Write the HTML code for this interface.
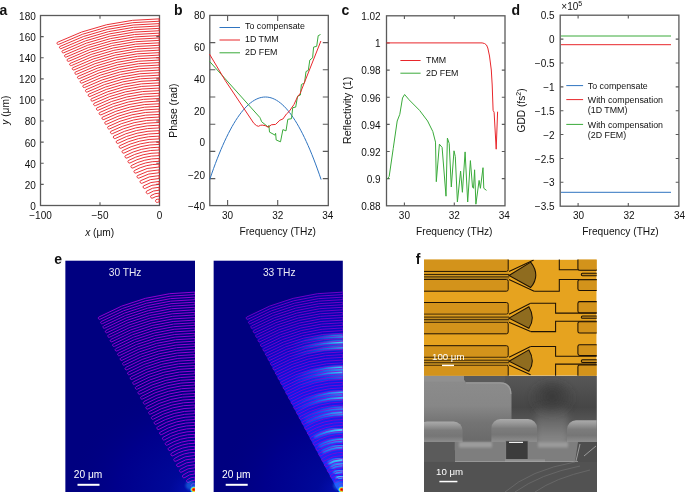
<!DOCTYPE html>
<html><head><meta charset="utf-8"><style>
html,body{margin:0;padding:0;background:#fff;overflow:hidden;width:685px;height:492px;}
svg{display:block;will-change:transform;}
text{font-family:"Liberation Sans", sans-serif;}
</style></head><body>
<svg width="685" height="492" viewBox="0 0 685 492">
<rect x="40.5" y="15.5" width="119" height="190" fill="none" stroke="#5a5a5a" stroke-width="1.3"/><path d="M40.5,184.39h3.2M159.5,184.39h-3.2M40.5,163.28h3.2M159.5,163.28h-3.2M40.5,142.17h3.2M159.5,142.17h-3.2M40.5,121.06h3.2M159.5,121.06h-3.2M40.5,99.94h3.2M159.5,99.94h-3.2M40.5,78.83h3.2M159.5,78.83h-3.2M40.5,57.72h3.2M159.5,57.72h-3.2M40.5,36.61h3.2M159.5,36.61h-3.2M100,205.5v-3.2M100,15.5v3.2" stroke="#5a5a5a" stroke-width="1.1" fill="none"/>
<path d="M159.2,199.06A7.02,6.24 0 0 0 155.99,199.75A1.57,1.57 0 0 0 157.52,202.38A3.69,3.28 0 0 1 159.2,202.02ZM159.2,193.14A13.68,12.16 0 0 0 150.95,195.6A1.56,1.56 0 0 0 152.95,197.95A10.37,9.22 0 0 1 159.2,196.08ZM159.2,187.26A20.29,18.04 0 0 0 146.52,191.22A1.55,1.55 0 0 0 148.57,193.5A17,15.11 0 0 1 159.2,190.19ZM159.2,181.42A26.85,23.88 0 0 0 143.46,185.95A1.54,1.54 0 0 0 145.38,188.31A23.59,20.97 0 0 1 159.2,184.33ZM159.2,175.63A33.37,29.67 0 0 0 140.41,180.78A1.53,1.53 0 0 0 142.24,183.16A30.13,26.79 0 0 1 159.2,178.51ZM159.2,169.87A39.85,35.43 0 0 0 137.37,175.66A1.52,1.52 0 0 0 139.14,178.05A36.63,32.57 0 0 1 159.2,172.73ZM159.2,164.15A46.28,41.15 0 0 0 134.35,170.59A1.51,1.51 0 0 0 136.06,172.99A43.08,38.31 0 0 1 159.2,166.99ZM159.2,158.47A52.67,46.83 0 0 0 131.34,165.56A1.5,1.5 0 0 0 133.02,167.96A49.49,44 0 0 1 159.2,161.3ZM159.2,152.83A59.02,52.47 0 0 0 128.35,160.57A1.49,1.49 0 0 0 130,162.96A55.86,49.67 0 0 1 159.2,155.63ZM159.2,147.23A65.32,58.07 0 0 0 125.38,155.61A1.48,1.48 0 0 0 127.01,158A62.19,55.29 0 0 1 159.2,150.01ZM159.2,141.66A71.58,63.64 0 0 0 122.43,150.7A1.47,1.47 0 0 0 124.03,153.07A68.47,60.87 0 0 1 159.2,144.43ZM159.2,136.13A77.8,69.17 0 0 0 119.5,145.82A1.46,1.46 0 0 0 121.08,148.18A74.7,66.42 0 0 1 159.2,138.88ZM159.2,130.64A83.97,74.66 0 0 0 116.59,140.97A1.45,1.45 0 0 0 118.15,143.32A80.9,71.93 0 0 1 159.2,133.37ZM159.2,125.19A90.1,80.11 0 0 0 113.7,136.15A1.44,1.44 0 0 0 115.24,138.5A87.05,77.4 0 0 1 159.2,127.9ZM159.2,119.78A96.19,85.52 0 0 0 110.83,131.37A1.43,1.43 0 0 0 112.35,133.7A93.16,82.83 0 0 1 159.2,122.47ZM159.2,114.4A102.24,90.9 0 0 0 107.98,126.63A1.42,1.42 0 0 0 109.48,128.94A99.24,88.23 0 0 1 159.2,117.07ZM159.2,109.06A108.25,96.24 0 0 0 105.14,121.91A1.41,1.41 0 0 0 106.64,124.22A105.26,93.59 0 0 1 159.2,111.71ZM159.2,103.75A114.22,101.55 0 0 0 102.33,117.23A1.4,1.4 0 0 0 103.81,119.52A111.25,98.91 0 0 1 159.2,106.39ZM159.2,98.48A120.15,106.82 0 0 0 99.53,112.58A1.39,1.39 0 0 0 101,114.86A117.2,104.2 0 0 1 159.2,101.1ZM159.2,93.25A126.03,112.05 0 0 0 96.76,107.97A1.38,1.38 0 0 0 98.21,110.23A123.11,109.45 0 0 1 159.2,95.85ZM159.2,88.05A131.88,117.25 0 0 0 94,103.38A1.37,1.37 0 0 0 95.44,105.63A128.97,114.67 0 0 1 159.2,90.63ZM159.2,82.89A137.69,122.41 0 0 0 91.26,98.83A1.36,1.36 0 0 0 92.69,101.06A134.8,119.85 0 0 1 159.2,85.45ZM159.2,77.76A143.45,127.54 0 0 0 88.54,94.3A1.35,1.35 0 0 0 89.95,96.52A140.59,124.99 0 0 1 159.2,80.31ZM159.2,72.67A149.18,132.63 0 0 0 85.84,89.81A1.35,1.35 0 0 0 87.24,92.02A146.33,130.1 0 0 1 159.2,75.2ZM159.2,67.61A154.87,137.69 0 0 0 83.16,85.35A1.34,1.34 0 0 0 84.55,87.54A152.04,135.18 0 0 1 159.2,70.12ZM159.2,62.58A160.52,142.72 0 0 0 80.49,80.92A1.33,1.33 0 0 0 81.87,83.1A157.71,140.22 0 0 1 159.2,65.08ZM159.2,57.59A166.13,147.71 0 0 0 77.84,76.52A1.32,1.32 0 0 0 79.21,78.68A163.34,145.22 0 0 1 159.2,60.08ZM159.2,52.64A171.71,152.66 0 0 0 75.21,72.15A1.31,1.31 0 0 0 76.57,74.3A168.94,150.2 0 0 1 159.2,55.1ZM159.2,47.72A177.24,157.58 0 0 0 72.6,67.81A1.3,1.3 0 0 0 73.95,69.94A174.49,155.13 0 0 1 159.2,50.17ZM159.2,42.83A182.74,162.47 0 0 0 70.01,63.49A1.29,1.29 0 0 0 71.34,65.62A180.01,160.04 0 0 1 159.2,45.26ZM159.2,37.97A188.2,167.33 0 0 0 67.43,59.21A1.28,1.28 0 0 0 68.76,61.32A185.49,164.91 0 0 1 159.2,40.39ZM159.2,33.15A193.63,172.15 0 0 0 64.87,54.96A1.27,1.27 0 0 0 66.19,57.05A190.93,169.75 0 0 1 159.2,35.55ZM159.2,28.36A199.01,176.94 0 0 0 62.33,50.74A1.27,1.27 0 0 0 63.64,52.82A196.33,174.56 0 0 1 159.2,30.74ZM159.2,23.6A204.36,181.7 0 0 0 59.81,46.54A1.26,1.26 0 0 0 61.1,48.61A201.7,179.33 0 0 1 159.2,25.97ZM159.2,18.88A209.68,186.42 0 0 0 57.3,42.37A1.25,1.25 0 0 0 58.59,44.43A207.03,184.07 0 0 1 159.2,21.23Z" fill="none" stroke="#e8262b" stroke-width="0.95"/>
<text x="35.8" y="209.9" font-size="10" text-anchor="end"  fill="#111">0</text>
<text x="35.8" y="188.79" font-size="10" text-anchor="end"  fill="#111">20</text>
<text x="35.8" y="167.68" font-size="10" text-anchor="end"  fill="#111">40</text>
<text x="35.8" y="146.57" font-size="10" text-anchor="end"  fill="#111">60</text>
<text x="35.8" y="125.46" font-size="10" text-anchor="end"  fill="#111">80</text>
<text x="35.8" y="104.34" font-size="10" text-anchor="end"  fill="#111">100</text>
<text x="35.8" y="83.23" font-size="10" text-anchor="end"  fill="#111">120</text>
<text x="35.8" y="62.12" font-size="10" text-anchor="end"  fill="#111">140</text>
<text x="35.8" y="41.01" font-size="10" text-anchor="end"  fill="#111">160</text>
<text x="35.8" y="19.9" font-size="10" text-anchor="end"  fill="#111">180</text>
<text x="40.5" y="219" font-size="10" text-anchor="middle"  fill="#111">&#8722;100</text>
<text x="100" y="219" font-size="10" text-anchor="middle"  fill="#111">&#8722;50</text>
<text x="159.5" y="219" font-size="10" text-anchor="middle"  fill="#111">0</text>
<text x="99.7" y="236" font-size="10.2" text-anchor="middle"  fill="#111"><tspan font-style="italic">x</tspan> (&#956;m)</text>
<g transform="translate(9.0,110.2) rotate(-90)"><text x="0" y="0" font-size="10.2" text-anchor="middle"  fill="#111"><tspan font-style="italic">y</tspan> (&#956;m)</text></g>
<text x="-0.5" y="14.6" font-size="14" text-anchor="start" font-weight="bold" fill="#111">a</text>
<rect x="209.8" y="15.4" width="118.5" height="190.2" fill="none" stroke="#5a5a5a" stroke-width="1.3"/><path d="M209.8,42.6h5.5M328.3,42.6h-5.5M209.8,69.8h5.5M328.3,69.8h-5.5M209.8,97h5.5M328.3,97h-5.5M209.8,124.2h5.5M328.3,124.2h-5.5M209.8,151.4h5.5M328.3,151.4h-5.5M209.8,178.6h5.5M328.3,178.6h-5.5M227.6,205.6v-5.5M227.6,15.4v5.5M277.7,205.6v-5.5M277.7,15.4v5.5" stroke="#5a5a5a" stroke-width="1.1" fill="none"/>
<polyline points="209.8,179.29 211.66,173.89 213.51,168.68 215.37,163.64 217.22,158.79 219.08,154.13 220.93,149.64 222.79,145.34 224.64,141.23 226.5,137.29 228.35,133.54 230.21,129.97 232.06,126.59 233.92,123.39 235.77,120.37 237.62,117.54 239.48,114.88 241.34,112.42 243.19,110.13 245.05,108.03 246.9,106.11 248.76,104.38 250.61,102.82 252.47,101.45 254.32,100.27 256.18,99.27 258.03,98.45 259.88,97.81 261.74,97.36 263.6,97.09 265.45,97 267.31,97.1 269.16,97.38 271.02,97.84 272.87,98.49 274.73,99.31 276.58,100.33 278.44,101.52 280.29,102.9 282.15,104.46 284,106.21 285.86,108.14 287.71,110.25 289.57,112.54 291.42,115.02 293.28,117.68 295.13,120.53 296.99,123.56 298.84,126.77 300.7,130.16 302.55,133.74 304.41,137.5 306.26,141.44 308.12,145.57 309.97,149.88 311.83,154.37 313.68,159.05 315.54,163.91 317.39,168.95 319.25,174.18 321.1,179.59" fill="none" stroke="#2f74c0" stroke-width="1"/>
<polyline points="209.5,61.3 259.8,117.4 260.5,118.8 261.6,121.7 268.3,127.2 268.9,125.4 269.5,132.1 275,135.1 275.6,133.3 276.2,140 280.5,141.8 282.9,129.6 286,130.9 287.8,119.3 291.5,118.7 292.7,107.7 295.7,107.1 297.6,96.1 298.4,95.9 300.4,95 301.4,84.5 304.5,82.9 306,71.5 308.3,70.4 309.8,60.1 312.6,57.8 313.6,47.1 316.7,46.3 318.2,35.7 320.5,34.5" fill="none" stroke="#3aaa3a" stroke-width="1" stroke-linejoin="round"/>
<polyline points="209.5,54.1 225.3,80.6 253.8,123.3 256.5,125.6 258.5,126.3 260.5,125.3 262.2,125.1 265.2,125.6 268.3,127.2 271.3,124.8 275.6,124.4 279.9,120.2 282.9,119 286.6,113.8 289,111.7 293.9,104.6 297.6,96.7 300,93.7 320.9,41" fill="none" stroke="#e8262b" stroke-width="1" stroke-linejoin="round"/>
<text x="205" y="19" font-size="10" text-anchor="end"  fill="#111">80</text>
<text x="205" y="51.2" font-size="10" text-anchor="end"  fill="#111">60</text>
<text x="205" y="82.8" font-size="10" text-anchor="end"  fill="#111">40</text>
<text x="205" y="114.6" font-size="10" text-anchor="end"  fill="#111">20</text>
<text x="205" y="146.3" font-size="10" text-anchor="end"  fill="#111">0</text>
<text x="205" y="178.6" font-size="10" text-anchor="end"  fill="#111">&#8722;20</text>
<text x="205" y="209.6" font-size="10" text-anchor="end"  fill="#111">&#8722;40</text>
<text x="227.6" y="219" font-size="10" text-anchor="middle"  fill="#111">30</text>
<text x="277.7" y="219" font-size="10" text-anchor="middle"  fill="#111">32</text>
<text x="327.8" y="219" font-size="10" text-anchor="middle"  fill="#111">34</text>
<text x="277.7" y="234.8" font-size="10.2" text-anchor="middle"  fill="#111">Frequency (THz)</text>
<g transform="translate(176.8,110.6) rotate(-90)"><text x="0" y="0" font-size="10.4" text-anchor="middle"  fill="#111">Phase (rad)</text></g>
<text x="174" y="14.8" font-size="14" text-anchor="start" font-weight="bold" fill="#111">b</text>
<path d="M219.5,27.5H240" stroke="#2f74c0" stroke-width="1"/>
<text x="245" y="29.3" font-size="8.85" text-anchor="start"  fill="#111">To compensate</text>
<path d="M219.5,40H240" stroke="#e8262b" stroke-width="1"/>
<text x="245" y="42.4" font-size="8.85" text-anchor="start"  fill="#111">1D TMM</text>
<path d="M219.5,52.8H240" stroke="#3aaa3a" stroke-width="1"/>
<text x="245" y="55" font-size="8.85" text-anchor="start"  fill="#111">2D FEM</text>
<rect x="386.5" y="15.8" width="118.5" height="190" fill="none" stroke="#5a5a5a" stroke-width="1.3"/><path d="M386.5,178.64h3.2M505,178.64h-3.2M386.5,151.5h3.2M505,151.5h-3.2M386.5,124.36h3.2M505,124.36h-3.2M386.5,97.22h3.2M505,97.22h-3.2M386.5,70.08h3.2M505,70.08h-3.2M386.5,42.94h3.2M505,42.94h-3.2M404.4,205.8v-3.2M404.4,15.8v3.2M454.3,205.8v-3.2M454.3,15.8v3.2" stroke="#5a5a5a" stroke-width="1.1" fill="none"/>
<text x="380.6" y="20.1" font-size="10" text-anchor="end"  fill="#111">1.02</text>
<text x="380.6" y="47.24" font-size="10" text-anchor="end"  fill="#111">1</text>
<text x="380.6" y="74.38" font-size="10" text-anchor="end"  fill="#111">0.98</text>
<text x="380.6" y="101.52" font-size="10" text-anchor="end"  fill="#111">0.96</text>
<text x="380.6" y="128.66" font-size="10" text-anchor="end"  fill="#111">0.94</text>
<text x="380.6" y="155.8" font-size="10" text-anchor="end"  fill="#111">0.92</text>
<text x="380.6" y="182.94" font-size="10" text-anchor="end"  fill="#111">0.9</text>
<text x="380.6" y="210.08" font-size="10" text-anchor="end"  fill="#111">0.88</text>
<text x="404.4" y="219" font-size="10" text-anchor="middle"  fill="#111">30</text>
<text x="454.3" y="219" font-size="10" text-anchor="middle"  fill="#111">32</text>
<text x="504.2" y="219" font-size="10" text-anchor="middle"  fill="#111">34</text>
<text x="454.3" y="234.8" font-size="10.2" text-anchor="middle"  fill="#111">Frequency (THz)</text>
<g transform="translate(351.0,110.4) rotate(-90)"><text x="0" y="0" font-size="10.6" text-anchor="middle"  fill="#111">Reflectivity (1)</text></g>
<text x="341.5" y="14.8" font-size="14" text-anchor="start" font-weight="bold" fill="#111">c</text>
<polyline points="387.4,179.1 389.2,176.4 393.2,148.7 397.2,121 399.8,114.3 402.5,98 404.6,94.5 409.1,99.8 419.6,110.4 427.6,121 432.8,131.5 435.5,142.1 436.3,181.7 439.4,144.2 442.1,147.4 446,196.2 447.4,138.1 449.2,143.4 451.3,187 454,150.8 455.3,156.6 457.4,202 460.6,171.1 462.4,192.3 465.1,151.9 467.7,202 470.4,160.6 472.5,187 473.5,188.3 474.6,169.8 475.9,204.2 479.1,180.4 480.4,188.3 483,167.7 483.8,188.3 486.5,190.4" fill="none" stroke="#3aaa3a" stroke-width="1" stroke-linejoin="round"/>
<polyline points="386.5,42.9 482.1,42.9 484.5,43.5 486.5,45 487.8,48 489.5,56 491.3,70 492.2,85 493.1,110.4 494.1,112.2 496.2,149.2 497.6,111.7" fill="none" stroke="#e8262b" stroke-width="1" stroke-linejoin="round"/>
<path d="M400.4,60.5H420.6" stroke="#e8262b" stroke-width="1"/>
<text x="426" y="63.3" font-size="8.85" text-anchor="start"  fill="#111">TMM</text>
<path d="M400.4,73.2H420.6" stroke="#3aaa3a" stroke-width="1"/>
<text x="426" y="76.2" font-size="8.85" text-anchor="start"  fill="#111">2D FEM</text>
<rect x="560.2" y="15.2" width="118.7" height="191" fill="none" stroke="#5a5a5a" stroke-width="1.3"/><path d="M560.2,39.08h3.2M678.9,39.08h-3.2M560.2,62.95h3.2M678.9,62.95h-3.2M560.2,86.83h3.2M678.9,86.83h-3.2M560.2,110.7h3.2M678.9,110.7h-3.2M560.2,134.57h3.2M678.9,134.57h-3.2M560.2,158.45h3.2M678.9,158.45h-3.2M560.2,182.32h3.2M678.9,182.32h-3.2M578.1,206.2v-3.2M578.1,15.2v3.2M628.3,206.2v-3.2M628.3,15.2v3.2" stroke="#5a5a5a" stroke-width="1.1" fill="none"/>
<text x="554.6" y="19.3" font-size="10" text-anchor="end"  fill="#111">0.5</text>
<text x="554.6" y="43.18" font-size="10" text-anchor="end"  fill="#111">0</text>
<text x="554.6" y="67.05" font-size="10" text-anchor="end"  fill="#111">&#8722;0.5</text>
<text x="554.6" y="90.92" font-size="10" text-anchor="end"  fill="#111">&#8722;1</text>
<text x="554.6" y="114.8" font-size="10" text-anchor="end"  fill="#111">&#8722;1.5</text>
<text x="554.6" y="138.67" font-size="10" text-anchor="end"  fill="#111">&#8722;2</text>
<text x="554.6" y="162.55" font-size="10" text-anchor="end"  fill="#111">&#8722;2.5</text>
<text x="554.6" y="186.42" font-size="10" text-anchor="end"  fill="#111">&#8722;3</text>
<text x="554.6" y="210.3" font-size="10" text-anchor="end"  fill="#111">&#8722;3.5</text>
<text x="578.5" y="219" font-size="10" text-anchor="middle"  fill="#111">30</text>
<text x="629" y="219" font-size="10" text-anchor="middle"  fill="#111">32</text>
<text x="679.5" y="219" font-size="10" text-anchor="middle"  fill="#111">34</text>
<text x="620.5" y="234.8" font-size="10.2" text-anchor="middle"  fill="#111">Frequency (THz)</text>
<g transform="translate(525.4,110.5) rotate(-90)"><text x="0" y="0" font-size="10.2" text-anchor="middle"  fill="#111">GDD (fs<tspan font-size="7" dy="-4">2</tspan><tspan dy="4">)</tspan></text></g>
<text x="511.5" y="14.9" font-size="14" text-anchor="start" font-weight="bold" fill="#111">d</text>
<text x="561.3" y="10.2" font-size="10" text-anchor="start"  fill="#111">&#215;10<tspan font-size="7" dy="-4.6">5</tspan></text>
<path d="M561,36H671" stroke="#3aaa3a" stroke-width="1"/>
<path d="M561,44.7H671" stroke="#e8262b" stroke-width="1"/>
<path d="M561,192.3H671" stroke="#2f74c0" stroke-width="1"/>
<path d="M566.3,85.6H583.1" stroke="#2f74c0" stroke-width="1"/>
<path d="M566.3,99.6H583.1" stroke="#e8262b" stroke-width="1"/>
<path d="M566.3,124.4H583.1" stroke="#3aaa3a" stroke-width="1"/>
<text x="587.8" y="88.9" font-size="8.85" text-anchor="start"  fill="#111">To compensate</text>
<text x="587.8" y="102.9" font-size="8.85" text-anchor="start"  fill="#111">With compensation</text>
<text x="587.8" y="113.4" font-size="8.85" text-anchor="start"  fill="#111">(1D TMM)</text>
<text x="587.8" y="127.8" font-size="8.85" text-anchor="start"  fill="#111">With compensation</text>
<text x="587.8" y="137.8" font-size="8.85" text-anchor="start"  fill="#111">(2D FEM)</text>
<defs><radialGradient id="haze" cx="1" cy="1" r="1"><stop offset="0" stop-color="#0818c8" stop-opacity="0.8"/><stop offset="0.2" stop-color="#0010b0" stop-opacity="0.5"/><stop offset="0.6" stop-color="#00009a" stop-opacity="0.45"/><stop offset="1" stop-color="#000080" stop-opacity="0"/></radialGradient><radialGradient id="hot" cx="0.5" cy="0.5" r="0.5"><stop offset="0" stop-color="#c00000"/><stop offset="0.3" stop-color="#ff4000"/><stop offset="0.5" stop-color="#f0e020"/><stop offset="0.7" stop-color="#20e0ff"/><stop offset="1" stop-color="#2040ff" stop-opacity="0"/></radialGradient><radialGradient id="wedgeFill" gradientUnits="userSpaceOnUse" cx="343" cy="490" r="200"><stop offset="0" stop-color="#2030ff"/><stop offset="0.55" stop-color="#1018e8"/><stop offset="0.8" stop-color="#0808c0"/><stop offset="1" stop-color="#000098"/></radialGradient><linearGradient id="cyanBand" gradientUnits="userSpaceOnUse" x1="290" y1="0" x2="343" y2="0"><stop offset="0" stop-color="#1060ff" stop-opacity="0"/><stop offset="0.45" stop-color="#1890ff" stop-opacity="0.55"/><stop offset="0.8" stop-color="#30d0ff" stop-opacity="0.95"/><stop offset="1" stop-color="#50f0ff" stop-opacity="1"/></linearGradient><filter id="soft" x="-0.2" y="-0.2" width="1.4" height="1.4"><feGaussianBlur stdDeviation="0.8"/></filter></defs>
<clipPath id="clip65"><rect x="65.2" y="260.4" width="129.8" height="231.6"/></clipPath>
<g clip-path="url(#clip65)">
<rect x="65.2" y="260.4" width="129.8" height="231.6" fill="#000080"/>
<rect x="65.2" y="380" width="129.8" height="112" fill="url(#haze)"/>

<path d="M195,483.37A6.63,6.63 0 0 0 191.97,484.1A1.57,1.57 0 0 0 193.41,486.9A3.48,3.48 0 0 1 195,486.52ZM195,477.09A12.91,12.91 0 0 0 187.21,479.71A1.56,1.56 0 0 0 189.1,482.2A9.78,9.78 0 0 1 195,480.22ZM195,470.85A19.15,19.15 0 0 0 183.03,475.06A1.55,1.55 0 0 0 184.97,477.48A16.04,16.04 0 0 1 195,473.96ZM195,464.66A25.34,25.34 0 0 0 180.15,469.46A1.54,1.54 0 0 0 181.96,471.96A22.26,22.26 0 0 1 195,467.74ZM195,458.5A31.5,31.5 0 0 0 177.27,463.97A1.53,1.53 0 0 0 178.99,466.5A28.43,28.43 0 0 1 195,461.57ZM195,452.39A37.61,37.61 0 0 0 174.4,458.54A1.52,1.52 0 0 0 176.06,461.08A34.57,34.57 0 0 1 195,455.43ZM195,446.32A43.68,43.68 0 0 0 171.55,453.15A1.51,1.51 0 0 0 173.17,455.7A40.66,40.66 0 0 1 195,449.34ZM195,440.29A49.71,49.71 0 0 0 168.71,447.82A1.5,1.5 0 0 0 170.29,450.36A46.71,46.71 0 0 1 195,443.29ZM195,434.3A55.7,55.7 0 0 0 165.89,442.52A1.49,1.49 0 0 0 167.44,445.06A52.72,52.72 0 0 1 195,437.28ZM195,428.36A61.64,61.64 0 0 0 163.09,437.26A1.48,1.48 0 0 0 164.62,439.79A58.68,58.68 0 0 1 195,431.32ZM195,422.45A67.55,67.55 0 0 0 160.3,432.04A1.47,1.47 0 0 0 161.81,434.56A64.61,64.61 0 0 1 195,425.39ZM195,416.58A73.42,73.42 0 0 0 157.54,426.86A1.46,1.46 0 0 0 159.03,429.37A70.5,70.5 0 0 1 195,419.5ZM195,410.76A79.24,79.24 0 0 0 154.79,421.72A1.45,1.45 0 0 0 156.26,424.21A76.34,76.34 0 0 1 195,413.66ZM195,404.97A85.03,85.03 0 0 0 152.06,416.61A1.44,1.44 0 0 0 153.52,419.09A82.15,82.15 0 0 1 195,407.85ZM195,399.22A90.78,90.78 0 0 0 149.35,411.53A1.43,1.43 0 0 0 150.79,414A87.92,87.92 0 0 1 195,402.08ZM195,393.51A96.49,96.49 0 0 0 146.66,406.49A1.42,1.42 0 0 0 148.08,408.95A93.65,93.65 0 0 1 195,396.35ZM195,387.84A102.16,102.16 0 0 0 143.99,401.49A1.41,1.41 0 0 0 145.4,403.93A99.34,99.34 0 0 1 195,390.66ZM195,382.21A107.79,107.79 0 0 0 141.33,396.52A1.4,1.4 0 0 0 142.73,398.95A104.99,104.99 0 0 1 195,385.01ZM195,376.62A113.38,113.38 0 0 0 138.69,391.59A1.39,1.39 0 0 0 140.08,394A110.6,110.6 0 0 1 195,379.4ZM195,371.06A118.94,118.94 0 0 0 136.07,386.69A1.38,1.38 0 0 0 137.44,389.09A116.17,116.17 0 0 1 195,373.83ZM195,365.55A124.45,124.45 0 0 0 133.47,381.82A1.37,1.37 0 0 0 134.83,384.2A121.71,121.71 0 0 1 195,368.29ZM195,360.07A129.93,129.93 0 0 0 130.89,376.98A1.36,1.36 0 0 0 132.23,379.36A127.21,127.21 0 0 1 195,362.79ZM195,354.62A135.38,135.38 0 0 0 128.32,372.18A1.35,1.35 0 0 0 129.65,374.54A132.67,132.67 0 0 1 195,357.33ZM195,349.22A140.78,140.78 0 0 0 125.77,367.42A1.34,1.34 0 0 0 127.09,369.76A138.09,138.09 0 0 1 195,351.91ZM195,343.85A146.15,146.15 0 0 0 123.24,362.68A1.34,1.34 0 0 0 124.55,365.01A143.48,143.48 0 0 1 195,346.52ZM195,338.52A151.48,151.48 0 0 0 120.72,357.98A1.33,1.33 0 0 0 122.02,360.29A148.83,148.83 0 0 1 195,341.17ZM195,333.22A156.78,156.78 0 0 0 118.22,353.31A1.32,1.32 0 0 0 119.51,355.6A154.15,154.15 0 0 1 195,335.85ZM195,327.96A162.04,162.04 0 0 0 115.74,348.67A1.31,1.31 0 0 0 117.02,350.95A159.42,159.42 0 0 1 195,330.58ZM195,322.74A167.26,167.26 0 0 0 113.28,344.06A1.3,1.3 0 0 0 114.55,346.33A164.67,164.67 0 0 1 195,325.33ZM195,317.55A172.45,172.45 0 0 0 110.83,339.48A1.29,1.29 0 0 0 112.09,341.73A169.87,169.87 0 0 1 195,320.13ZM195,312.39A177.61,177.61 0 0 0 108.4,334.94A1.28,1.28 0 0 0 109.65,337.17A175.04,175.04 0 0 1 195,314.96ZM195,307.27A182.73,182.73 0 0 0 105.99,330.42A1.27,1.27 0 0 0 107.23,332.65A180.18,180.18 0 0 1 195,309.82ZM195,302.19A187.81,187.81 0 0 0 103.59,325.94A1.26,1.26 0 0 0 104.82,328.15A185.28,185.28 0 0 1 195,304.72ZM195,297.14A192.86,192.86 0 0 0 101.21,321.49A1.26,1.26 0 0 0 102.43,323.68A190.35,190.35 0 0 1 195,299.65ZM195,292.13A197.87,197.87 0 0 0 98.84,317.06A1.25,1.25 0 0 0 100.05,319.24A195.38,195.38 0 0 1 195,294.62Z" fill="none" stroke="#9000d0" stroke-width="1" />
<ellipse cx="191" cy="485.5" rx="5.5" ry="4.5" fill="#20a0ff" opacity="0.45" filter="url(#soft)"/>
<ellipse cx="193.8" cy="489.6" rx="4.2" ry="3.8" fill="url(#hot)"/>
</g>
<text x="108.8" y="275.6" font-size="10.2" text-anchor="start" fill="#ececf4">30 THz</text>
<text x="73.8" y="478.3" font-size="10.2" text-anchor="start" fill="#fff">20 &#956;m</text>
<rect x="77.5" y="483.8" width="22" height="2" fill="#fff"/>
<clipPath id="clip213"><rect x="213.4" y="260.4" width="129.5" height="231.6"/></clipPath>
<g clip-path="url(#clip213)">
<rect x="213.4" y="260.4" width="129.5" height="231.6" fill="#000080"/>
<rect x="213.4" y="380" width="129.5" height="112" fill="url(#haze)"/>
<path d="M337.51,490L245.65,317.62A198.37,198.37 0 0 1 342.9,291.63L342.9,490Z" fill="url(#wedgeFill)"/>
<path d="M344.9,336.2A153.8,153.8 0 0 0 269.16,355.03" stroke="url(#cyanBand)" stroke-width="3.6" fill="none" opacity="0.75" filter="url(#soft)"/><path d="M344.9,342.3A147.7,147.7 0 0 0 272.09,360.38" stroke="url(#cyanBand)" stroke-width="3.6" fill="none" opacity="1.0" filter="url(#soft)"/><path d="M344.9,347.5A142.5,142.5 0 0 0 274.58,364.94" stroke="url(#cyanBand)" stroke-width="3.6" fill="none" opacity="0.75" filter="url(#soft)"/><path d="M344.9,367.8A122.2,122.2 0 0 0 284.31,382.76" stroke="url(#cyanBand)" stroke-width="3.6" fill="none" opacity="0.95" filter="url(#soft)"/><path d="M344.9,372.1A117.9,117.9 0 0 0 286.38,386.53" stroke="url(#cyanBand)" stroke-width="3.6" fill="none" opacity="0.9" filter="url(#soft)"/><path d="M344.9,377A113,113 0 0 0 288.72,390.83" stroke="url(#cyanBand)" stroke-width="3.6" fill="none" opacity="0.45" filter="url(#soft)"/><path d="M344.9,392.7A97.3,97.3 0 0 0 296.25,404.61" stroke="url(#cyanBand)" stroke-width="3.6" fill="none" opacity="0.85" filter="url(#soft)"/><path d="M344.9,397.7A92.3,92.3 0 0 0 298.65,409" stroke="url(#cyanBand)" stroke-width="3.6" fill="none" opacity="0.85" filter="url(#soft)"/><path d="M344.9,408.4A81.6,81.6 0 0 0 303.78,418.39" stroke="url(#cyanBand)" stroke-width="3.6" fill="none" opacity="0.6" filter="url(#soft)"/><path d="M344.9,413.3A76.7,76.7 0 0 0 306.13,422.69" stroke="url(#cyanBand)" stroke-width="3.6" fill="none" opacity="0.85" filter="url(#soft)"/><path d="M344.9,429.9A60.1,60.1 0 0 0 314.09,437.26" stroke="url(#cyanBand)" stroke-width="3.6" fill="none" opacity="1.0" filter="url(#soft)"/><path d="M344.9,440.2A49.8,49.8 0 0 0 319.02,446.3" stroke="url(#cyanBand)" stroke-width="3.6" fill="none" opacity="0.75" filter="url(#soft)"/><path d="M344.9,446.7A43.3,43.3 0 0 0 322.14,452" stroke="url(#cyanBand)" stroke-width="3.6" fill="none" opacity="0.75" filter="url(#soft)"/><path d="M344.9,459.8A30.2,30.2 0 0 0 328.42,463.5" stroke="url(#cyanBand)" stroke-width="3.6" fill="none" opacity="1.0" filter="url(#soft)"/><path d="M344.9,464.5A25.5,25.5 0 0 0 330.67,467.62" stroke="url(#cyanBand)" stroke-width="3.6" fill="none" opacity="0.75" filter="url(#soft)"/><path d="M344.9,471A19,19 0 0 0 333.79,473.33" stroke="url(#cyanBand)" stroke-width="3.6" fill="none" opacity="0.75" filter="url(#soft)"/><path d="M344.9,476.6A13.4,13.4 0 0 0 336.48,478.24" stroke="url(#cyanBand)" stroke-width="3.6" fill="none" opacity="1.0" filter="url(#soft)"/>
<path d="M342.9,483.37A6.63,6.63 0 0 0 339.87,484.1A1.57,1.57 0 0 0 341.31,486.9A3.48,3.48 0 0 1 342.9,486.52ZM342.9,477.09A12.91,12.91 0 0 0 335.11,479.71A1.56,1.56 0 0 0 337,482.2A9.78,9.78 0 0 1 342.9,480.22ZM342.9,470.85A19.15,19.15 0 0 0 330.93,475.06A1.55,1.55 0 0 0 332.87,477.48A16.04,16.04 0 0 1 342.9,473.96ZM342.9,464.66A25.34,25.34 0 0 0 328.05,469.46A1.54,1.54 0 0 0 329.86,471.96A22.26,22.26 0 0 1 342.9,467.74ZM342.9,458.5A31.5,31.5 0 0 0 325.17,463.97A1.53,1.53 0 0 0 326.89,466.5A28.43,28.43 0 0 1 342.9,461.57ZM342.9,452.39A37.61,37.61 0 0 0 322.3,458.54A1.52,1.52 0 0 0 323.96,461.08A34.57,34.57 0 0 1 342.9,455.43ZM342.9,446.32A43.68,43.68 0 0 0 319.45,453.15A1.51,1.51 0 0 0 321.07,455.7A40.66,40.66 0 0 1 342.9,449.34ZM342.9,440.29A49.71,49.71 0 0 0 316.61,447.82A1.5,1.5 0 0 0 318.19,450.36A46.71,46.71 0 0 1 342.9,443.29ZM342.9,434.3A55.7,55.7 0 0 0 313.79,442.52A1.49,1.49 0 0 0 315.34,445.06A52.72,52.72 0 0 1 342.9,437.28ZM342.9,428.36A61.64,61.64 0 0 0 310.99,437.26A1.48,1.48 0 0 0 312.52,439.79A58.68,58.68 0 0 1 342.9,431.32ZM342.9,422.45A67.55,67.55 0 0 0 308.2,432.04A1.47,1.47 0 0 0 309.71,434.56A64.61,64.61 0 0 1 342.9,425.39ZM342.9,416.58A73.42,73.42 0 0 0 305.44,426.86A1.46,1.46 0 0 0 306.93,429.37A70.5,70.5 0 0 1 342.9,419.5ZM342.9,410.76A79.24,79.24 0 0 0 302.69,421.72A1.45,1.45 0 0 0 304.16,424.21A76.34,76.34 0 0 1 342.9,413.66ZM342.9,404.97A85.03,85.03 0 0 0 299.96,416.61A1.44,1.44 0 0 0 301.42,419.09A82.15,82.15 0 0 1 342.9,407.85ZM342.9,399.22A90.78,90.78 0 0 0 297.25,411.53A1.43,1.43 0 0 0 298.69,414A87.92,87.92 0 0 1 342.9,402.08ZM342.9,393.51A96.49,96.49 0 0 0 294.56,406.49A1.42,1.42 0 0 0 295.98,408.95A93.65,93.65 0 0 1 342.9,396.35ZM342.9,387.84A102.16,102.16 0 0 0 291.89,401.49A1.41,1.41 0 0 0 293.3,403.93A99.34,99.34 0 0 1 342.9,390.66ZM342.9,382.21A107.79,107.79 0 0 0 289.23,396.52A1.4,1.4 0 0 0 290.63,398.95A104.99,104.99 0 0 1 342.9,385.01ZM342.9,376.62A113.38,113.38 0 0 0 286.59,391.59A1.39,1.39 0 0 0 287.98,394A110.6,110.6 0 0 1 342.9,379.4ZM342.9,371.06A118.94,118.94 0 0 0 283.97,386.69A1.38,1.38 0 0 0 285.34,389.09A116.17,116.17 0 0 1 342.9,373.83ZM342.9,365.55A124.45,124.45 0 0 0 281.37,381.82A1.37,1.37 0 0 0 282.73,384.2A121.71,121.71 0 0 1 342.9,368.29ZM342.9,360.07A129.93,129.93 0 0 0 278.79,376.98A1.36,1.36 0 0 0 280.13,379.36A127.21,127.21 0 0 1 342.9,362.79ZM342.9,354.62A135.38,135.38 0 0 0 276.22,372.18A1.35,1.35 0 0 0 277.55,374.54A132.67,132.67 0 0 1 342.9,357.33ZM342.9,349.22A140.78,140.78 0 0 0 273.67,367.42A1.34,1.34 0 0 0 274.99,369.76A138.09,138.09 0 0 1 342.9,351.91ZM342.9,343.85A146.15,146.15 0 0 0 271.14,362.68A1.34,1.34 0 0 0 272.45,365.01A143.48,143.48 0 0 1 342.9,346.52ZM342.9,338.52A151.48,151.48 0 0 0 268.62,357.98A1.33,1.33 0 0 0 269.92,360.29A148.83,148.83 0 0 1 342.9,341.17ZM342.9,333.22A156.78,156.78 0 0 0 266.12,353.31A1.32,1.32 0 0 0 267.41,355.6A154.15,154.15 0 0 1 342.9,335.85ZM342.9,327.96A162.04,162.04 0 0 0 263.64,348.67A1.31,1.31 0 0 0 264.92,350.95A159.42,159.42 0 0 1 342.9,330.58ZM342.9,322.74A167.26,167.26 0 0 0 261.18,344.06A1.3,1.3 0 0 0 262.45,346.33A164.67,164.67 0 0 1 342.9,325.33ZM342.9,317.55A172.45,172.45 0 0 0 258.73,339.48A1.29,1.29 0 0 0 259.99,341.73A169.87,169.87 0 0 1 342.9,320.13ZM342.9,312.39A177.61,177.61 0 0 0 256.3,334.94A1.28,1.28 0 0 0 257.55,337.17A175.04,175.04 0 0 1 342.9,314.96ZM342.9,307.27A182.73,182.73 0 0 0 253.89,330.42A1.27,1.27 0 0 0 255.13,332.65A180.18,180.18 0 0 1 342.9,309.82ZM342.9,302.19A187.81,187.81 0 0 0 251.49,325.94A1.26,1.26 0 0 0 252.72,328.15A185.28,185.28 0 0 1 342.9,304.72ZM342.9,297.14A192.86,192.86 0 0 0 249.11,321.49A1.26,1.26 0 0 0 250.33,323.68A190.35,190.35 0 0 1 342.9,299.65ZM342.9,292.13A197.87,197.87 0 0 0 246.74,317.06A1.25,1.25 0 0 0 247.95,319.24A195.38,195.38 0 0 1 342.9,294.62Z" fill="none" stroke="#9000d0" stroke-width="0.9" opacity="0.85"/>
<ellipse cx="338.9" cy="485.5" rx="5.5" ry="4.5" fill="#20a0ff" opacity="0.45" filter="url(#soft)"/>
<ellipse cx="341.7" cy="489.6" rx="4.2" ry="3.8" fill="url(#hot)"/>
</g>
<text x="262.9" y="275.6" font-size="10.2" text-anchor="start" fill="#ececf4">33 THz</text>
<text x="222" y="478.3" font-size="10.2" text-anchor="start" fill="#fff">20 &#956;m</text>
<rect x="225.7" y="483.8" width="22" height="2" fill="#fff"/>
<text x="54.3" y="264.4" font-size="14" text-anchor="start" font-weight="bold" fill="#111">e</text>
<text x="415.8" y="263.9" font-size="14" text-anchor="start" font-weight="bold" fill="#111">f</text>
<clipPath id="clipf"><rect x="424.0" y="259.6" width="172.7" height="116.2"/></clipPath>
<g clip-path="url(#clipf)">
<rect x="424.0" y="259.6" width="172.7" height="116.2" fill="#e6a31f"/>
<rect x="415" y="250" width="93.2" height="21.45" rx="1.8" fill="#d3931b" stroke="#1e1204" stroke-width="1"/>
<rect x="415" y="279.45" width="93.2" height="11.75" rx="1.8" fill="#d3931b" stroke="#1e1204" stroke-width="1"/>
<rect x="415" y="271.95" width="94.2" height="7" fill="#d89a1e"/>
<rect x="415" y="275.85" width="94.2" height="3.1" fill="#a87a1c"/>
<path d="M415,274.45H509.2" stroke="#1e1204" stroke-width="0.9"/>
<path d="M415,276.85H509.2" stroke="#1e1204" stroke-width="0.8" opacity="0.8"/>
<path d="M509,271.45L533.7,259.9M509,279.45L534.2,291.3" stroke="#1e1204" stroke-width="1.05" fill="none"/>
<path d="M509,275.45L530.7,262.1Q540.9,275.45 530.7,287.5Z" fill="#8f6c1f" stroke="#1e1204" stroke-width="1.05"/>
<path d="M559.3,250V269.8H600" stroke="#1e1204" stroke-width="1.05" fill="none"/>
<path d="M534.2,291.3H559.3V279.5H600" stroke="#1e1204" stroke-width="1.05" fill="none"/>
<rect x="577.9" y="250" width="30" height="20.2" rx="1.8" fill="#d3931b" stroke="#1e1204" stroke-width="1.05"/>
<rect x="577.9" y="279.7" width="30" height="10.8" rx="1.8" fill="#d3931b" stroke="#1e1204" stroke-width="1.05"/>
<rect x="581.3" y="273.2" width="30" height="2.6" rx="1.2" fill="#c48a1a" stroke="#1e1204" stroke-width="1.05"/>
<rect x="415" y="302.5" width="93.2" height="11.7" rx="1.8" fill="#d3931b" stroke="#1e1204" stroke-width="1"/>
<rect x="415" y="322.2" width="93.2" height="11.6" rx="1.8" fill="#d3931b" stroke="#1e1204" stroke-width="1"/>
<rect x="415" y="314.7" width="94.2" height="7" fill="#d89a1e"/>
<rect x="415" y="318.5" width="94.2" height="3.2" fill="#a87a1c"/>
<path d="M415,317.1H509.2" stroke="#1e1204" stroke-width="0.9"/>
<path d="M415,319.5H509.2" stroke="#1e1204" stroke-width="0.8" opacity="0.8"/>
<path d="M509,314.2L530.6,303.3M509,322.2L530.6,331.6" stroke="#1e1204" stroke-width="1.05" fill="none"/>
<path d="M509,318.1L528.9,306.7Q535.7,318.1 528.9,328.2Z" fill="#8f6c1f" stroke="#1e1204" stroke-width="1.05"/>
<path d="M530.6,303.3H555.6V313.1H600" stroke="#1e1204" stroke-width="1.05" fill="none"/>
<path d="M530.6,331.6H555.6V321.3H600" stroke="#1e1204" stroke-width="1.05" fill="none"/>
<rect x="577.9" y="301.6" width="30" height="11.2" rx="1.8" fill="#d3931b" stroke="#1e1204" stroke-width="1.05"/>
<rect x="577.9" y="321.8" width="30" height="11.2" rx="1.8" fill="#d3931b" stroke="#1e1204" stroke-width="1.05"/>
<rect x="581.3" y="316" width="30" height="2.3" rx="1.2" fill="#c48a1a" stroke="#1e1204" stroke-width="1.05"/>
<rect x="415" y="345.7" width="93.2" height="11.6" rx="1.8" fill="#d3931b" stroke="#1e1204" stroke-width="1"/>
<rect x="415" y="365.1" width="93.2" height="12.5" rx="1.8" fill="#d3931b" stroke="#1e1204" stroke-width="1"/>
<rect x="415" y="357.8" width="94.2" height="6.8" fill="#d89a1e"/>
<rect x="415" y="361.6" width="94.2" height="3" fill="#a87a1c"/>
<path d="M415,360.2H509.2" stroke="#1e1204" stroke-width="0.9"/>
<path d="M415,362.6H509.2" stroke="#1e1204" stroke-width="0.8" opacity="0.8"/>
<path d="M509,357.3L530.6,346.5M509,365.1L530.6,374.7" stroke="#1e1204" stroke-width="1.05" fill="none"/>
<path d="M509,361.2L528.9,349.9Q535.7,361.2 528.9,371.3Z" fill="#8f6c1f" stroke="#1e1204" stroke-width="1.05"/>
<path d="M530.6,346.5H555.6V356.3H600" stroke="#1e1204" stroke-width="1.05" fill="none"/>
<path d="M530.6,390H555.6V364.1H600" stroke="#1e1204" stroke-width="1.05" fill="none"/>
<rect x="577.9" y="344.7" width="30" height="10.7" rx="1.8" fill="#d3931b" stroke="#1e1204" stroke-width="1.05"/>
<rect x="577.9" y="365" width="30" height="15" rx="1.8" fill="#d3931b" stroke="#1e1204" stroke-width="1.05"/>
<rect x="581.3" y="359.8" width="30" height="2.6" rx="1.2" fill="#c48a1a" stroke="#1e1204" stroke-width="1.05"/>
<text x="432" y="359.6" font-size="9.7" text-anchor="start" fill="#fff">100 &#956;m</text>
<rect x="442" y="364.7" width="12" height="1.4" fill="#fff"/>
</g>
<clipPath id="clips"><rect x="424.0" y="375.8" width="172.7" height="116.2"/></clipPath>
<defs><linearGradient id="semTop" x1="0" y1="0" x2="0" y2="1"><stop offset="0" stop-color="#575757"/><stop offset="0.45" stop-color="#464646"/><stop offset="1" stop-color="#707070"/></linearGradient><linearGradient id="blockG" gradientUnits="userSpaceOnUse" x1="0" y1="376" x2="0" y2="442"><stop offset="0" stop-color="#8c8c8c"/><stop offset="0.45" stop-color="#878787"/><stop offset="0.7" stop-color="#747474"/><stop offset="1" stop-color="#6a6a6a"/></linearGradient><filter id="semBlur1" x="-0.2" y="-0.5" width="1.4" height="2"><feGaussianBlur stdDeviation="0.8"/></filter><filter id="semBlur" x="-0.5" y="-0.5" width="2" height="2"><feGaussianBlur stdDeviation="3"/></filter><linearGradient id="valley" x1="0" y1="0" x2="0" y2="1"><stop offset="0" stop-color="#8a8a8a" stop-opacity="0"/><stop offset="0.6" stop-color="#858585" stop-opacity="0.6"/><stop offset="1" stop-color="#8c8c8c"/></linearGradient><radialGradient id="semDark" cx="0.5" cy="0.35" r="0.5"><stop offset="0" stop-color="#383838"/><stop offset="1" stop-color="#383838" stop-opacity="0"/></radialGradient><linearGradient id="bump" x1="0" y1="0" x2="0" y2="1"><stop offset="0" stop-color="#aaaaaa"/><stop offset="0.12" stop-color="#9a9a9a"/><stop offset="0.3" stop-color="#7c7c7c"/><stop offset="0.5" stop-color="#767676"/><stop offset="0.7" stop-color="#8c8c8c"/><stop offset="1" stop-color="#8e8e8e"/></linearGradient></defs>
<g clip-path="url(#clips)">
<rect x="424.0" y="375.8" width="172.7" height="116.2" fill="#5a5a5a"/>
<rect x="505" y="375.8" width="95" height="70" fill="url(#semTop)"/>
<ellipse cx="552" cy="403" rx="24" ry="22" fill="url(#semDark)" filter="url(#semBlur)"/>
<rect x="536" y="404" width="32" height="42" fill="url(#valley)" filter="url(#semBlur)"/>
<path d="M418,375.8V442H511.5V394Q511.5,382.5 500,382.5H466Q462,376 455,376Z" fill="url(#blockG)"/>
<rect x="418" y="375.8" width="46" height="6" fill="#909090"/>
<path d="M466,382.8H500Q510.5,382.8 510.8,394" stroke="#9c9c9c" stroke-width="1.2" fill="none"/>
<rect x="418" y="421.6" width="44.6" height="28.9" rx="9" fill="url(#bump)"/>
<rect x="491.4" y="419" width="45.7" height="31.5" rx="9" fill="url(#bump)"/>
<rect x="567" y="420.3" width="39" height="30.2" rx="9" fill="url(#bump)"/>
<rect x="455" y="442" width="123" height="19.5" fill="#7e7e7e"/>
<rect x="459" y="442" width="33" height="5.5" fill="#9c9c9c" filter="url(#semBlur1)"/>
<rect x="538" y="442" width="30" height="5.5" fill="#9a9a9a" filter="url(#semBlur1)"/>
<rect x="418" y="442" width="36.8" height="19.5" fill="#5b5b5b"/>
<path d="M578,442L600,442L600,462L575,462Z" fill="#4e4e4e"/>
<path d="M580,444L576,461M584,456L596,446" stroke="#b0b0b0" stroke-width="0.8" fill="none"/>
<rect x="505.7" y="440.8" width="22.4" height="18.6" fill="#3c3c3c" stroke="#8a8a8a" stroke-width="0.8"/>
<rect x="505" y="459.3" width="40" height="2.6" fill="#909090"/>
<path d="M509,442.4H523" stroke="#f0f0f0" stroke-width="1.2"/>
<path d="M455,461.6H578" stroke="#a8a8a8" stroke-width="0.8"/>
<rect x="418" y="462" width="190" height="40" fill="#525252"/>
<path d="M505,492Q530,470 575,462M515,492Q540,474 580,466M535,492Q555,478 590,470" stroke="#6c6c6c" stroke-width="0.8" fill="none"/>
<text x="436" y="474.5" font-size="9.7" text-anchor="start" fill="#fff">10 &#956;m</text>
<rect x="439.4" y="480.8" width="18" height="1.5" fill="#fff"/>
</g>
</svg>
</body></html>
